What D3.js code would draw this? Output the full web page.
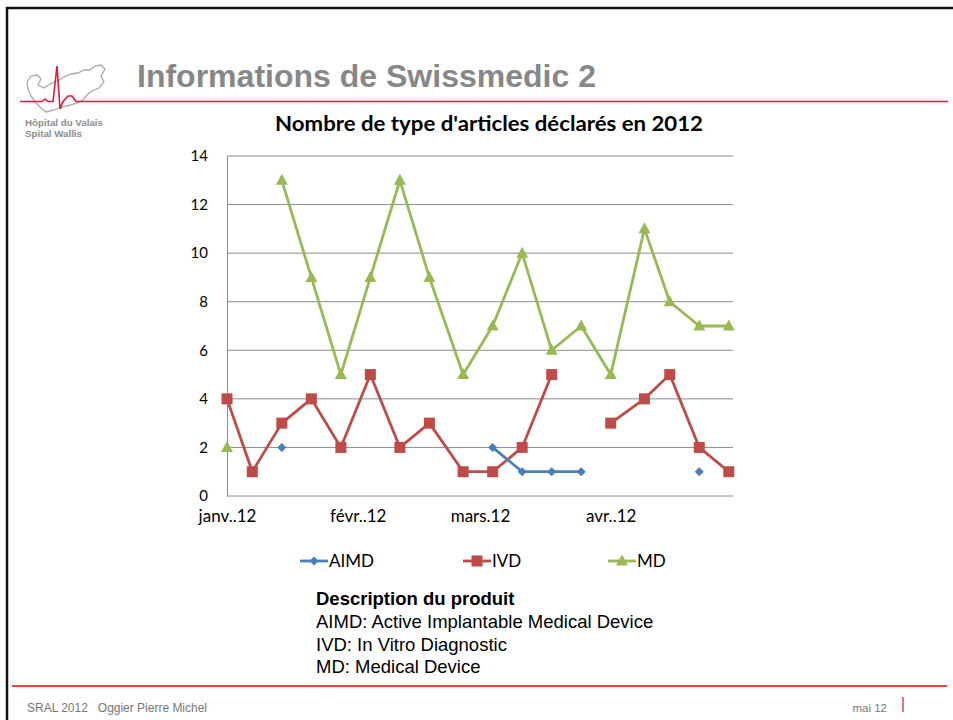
<!DOCTYPE html>
<html>
<head>
<meta charset="utf-8">
<script src="https://cdn.jsdelivr.net/npm/d3@7"></script>
<style>
  body { margin: 0; background: #fff; }
  svg { display: block; }
</style>
</head>
<body>
<div class="slide"></div>
<script>
// data
var dates = ["2012-01-01", "2012-01-07", "2012-01-14", "2012-01-21", "2012-01-28",
             "2012-02-04", "2012-02-11", "2012-02-18", "2012-02-26", "2012-03-04",
             "2012-03-11", "2012-03-18", "2012-03-25", "2012-04-01", "2012-04-09",
             "2012-04-15", "2012-04-22", "2012-04-29"];
var aimd = [null, null, 2, null, null, null, null, null, null, 2, 1, 1, 1, null, null, null, 1, null];
var ivd  = [4, 1, 3, 4, 2, 5, 2, 3, 1, 1, 2, 5, null, 3, 4, 5, 2, 1];
var md   = [2, null, 13, 9, 5, 9, 13, 9, 5, 7, 10, 6, 7, 5, 11, 8, 7, 7];
var seriesNames = ["AIMD", "IVD", "MD"];
var tickDates = ["2012-01-01", "2012-02-01", "2012-03-01", "2012-04-01"];
var tickLabels = ["janv..12", "févr..12", "mars.12", "avr..12"];
var yTicks = [0, 2, 4, 6, 8, 10, 12, 14];
var descLines = ["AIMD: Active Implantable Medical Device", "IVD: In Vitro Diagnostic", "MD: Medical Device"];

var W = 953, H = 720;
var colors = {AIMD: "#4a7ebb", IVD: "#be4b48", MD: "#98b954"};
var chartFont = "Lato, 'Open Sans', sans-serif";
var arial = "'Liberation Sans', Arial, sans-serif";
var parse = d3.timeParse("%Y-%m-%d");

var svg = d3.select(".slide").append("svg")
    .attr("width", W)
    .attr("height", H);

// slide frame
svg.append("line").attr("x1", 6).attr("x2", W).attr("y1", 8).attr("y2", 8)
   .attr("stroke", "#111").attr("stroke-width", 2.5);
svg.append("line").attr("x1", 7).attr("x2", 7).attr("y1", 7).attr("y2", H)
   .attr("stroke", "#111").attr("stroke-width", 2.5);

// logo: map outline + ecg line
var logo = svg.append("g");
logo.append("path")
   .attr("d", "M27,82 L31,76 L37,75 L41,79 L38,85 L44,88 L50,84 L57,81 L64,77 L71,74 L78,73 L84,70 L90,70 L95,66 L101,65 L105,69 L101,76 L104,82 L99,88 L92,91 L87,95 L83,100 L77,103 L70,105 L62,107 L54,110 L46,112 L41,108 L36,103 L31,96 L28,89 Z")
   .attr("fill", "none").attr("stroke", "#a8a8a8").attr("stroke-width", 1.3);
logo.append("path")
   .attr("d", "M20,101.5 L42,101.5 L45,99 L48,101.5 L53,101.5 L57,66 L60,109 L63,101.5 L68,96 L72,96 L76,101.5 L948,101.5")
   .attr("fill", "none").attr("stroke", "#e2183f").attr("stroke-width", 1.6);
logo.append("text").attr("x", 25).attr("y", 126).text("Hôpital du Valais")
   .attr("textLength", 78).attr("lengthAdjust", "spacingAndGlyphs")
   .style("font-family", arial).style("font-size", "9.5px")
   .style("font-weight", "bold").style("fill", "#8c8c8c");
logo.append("text").attr("x", 25).attr("y", 137).text("Spital Wallis")
   .attr("textLength", 57).attr("lengthAdjust", "spacingAndGlyphs")
   .style("font-family", arial).style("font-size", "9.5px")
   .style("font-weight", "bold").style("fill", "#8c8c8c");

// slide title
svg.append("text").attr("x", 137).attr("y", 87)
   .text("Informations de Swissmedic 2")
   .attr("textLength", 459).attr("lengthAdjust", "spacingAndGlyphs")
   .style("font-family", arial)
   .style("font-size", "31px").style("font-weight", "bold").style("fill", "#878787");

// chart title
svg.append("text").attr("x", 489).attr("y", 131).attr("text-anchor", "middle")
   .text("Nombre de type d'articles déclarés en 2012")
   .attr("textLength", 428).attr("lengthAdjust", "spacingAndGlyphs")
   .style("font-family", chartFont).style("font-size", "21px")
   .style("font-weight", "bold").style("fill", "#000");

// scales
var x = d3.scaleTime()
    .domain([parse("2012-01-01"), parse("2012-04-30")])
    .range([227, 733]);
var y = d3.scaleLinear().domain([0, 14]).range([496, 156]);

// gridlines
svg.append("g").selectAll("line").data(yTicks).enter().append("line")
   .attr("x1", 227).attr("x2", 733)
   .attr("y1", function(d) { return y(d); }).attr("y2", function(d) { return y(d); })
   .attr("stroke", "#8c8c8c").attr("stroke-width", 1);

// y axis
var yAxis = svg.append("g").attr("transform", "translate(227,0)")
   .call(d3.axisLeft(y).tickValues(yTicks).tickSize(0).tickPadding(19));
yAxis.select(".domain").attr("stroke", "#8c8c8c");
yAxis.selectAll("text").style("font-family", chartFont).style("font-size", "15px").style("fill", "#000");

// x axis labels
var xAxis = svg.append("g").attr("transform", "translate(0,496)")
   .call(d3.axisBottom(x).tickValues(tickDates.map(parse)).tickSize(0).tickPadding(14)
     .tickFormat(function(d, i) { return tickLabels[i]; }));
xAxis.select(".domain").remove();
xAxis.selectAll("text").style("font-family", chartFont).style("font-size", "17px").style("fill", "#000");

// series
var seriesData = {AIMD: aimd, IVD: ivd, MD: md};
var line = d3.line()
    .defined(function(d) { return d.v != null; })
    .x(function(d) { return x(d.date); })
    .y(function(d) { return y(d.v); });

function marker(g, name, cx, cy) {
  if (name === "AIMD") {
    g.append("path").attr("d", "M0,-4.5 L4.5,0 L0,4.5 L-4.5,0 Z")
     .attr("transform", "translate(" + cx + "," + cy + ")").attr("fill", colors.AIMD);
  } else if (name === "IVD") {
    g.append("rect").attr("x", cx - 5.5).attr("y", cy - 5.5).attr("width", 11).attr("height", 11)
     .attr("fill", colors.IVD);
  } else {
    g.append("path").attr("d", "M0,-6.5 L6,4.5 L-6,4.5 Z")
     .attr("transform", "translate(" + cx + "," + cy + ")").attr("fill", colors.MD);
  }
}

// draw MD first, then IVD, then AIMD on top
["MD", "IVD", "AIMD"].forEach(function(name) {
  var pts = dates.map(function(d, i) { return {date: parse(d), v: seriesData[name][i]}; });
  var g = svg.append("g");
  g.append("path").datum(pts).attr("d", line)
   .attr("fill", "none").attr("stroke", colors[name]).attr("stroke-width", 2.8)
   .attr("stroke-linejoin", "round");
  pts.forEach(function(p) {
    if (p.v != null) marker(g, name, x(p.date), y(p.v));
  });
});

// legend
var legendX = [300, 463, 608];
seriesNames.forEach(function(name, i) {
  var g = svg.append("g");
  var lx = legendX[i];
  g.append("line").attr("x1", lx).attr("x2", lx + 28).attr("y1", 561).attr("y2", 561)
   .attr("stroke", colors[name]).attr("stroke-width", 2.8);
  marker(g, name, lx + 14, 561);
  g.append("text").attr("x", lx + 29).attr("y", 567).text(name)
   .style("font-family", chartFont).style("font-size", "17px").style("fill", "#000");
});

// description block
svg.append("text").attr("x", 316).attr("y", 605).text("Description du produit")
   .style("font-family", arial).style("font-size", "18.5px")
   .style("font-weight", "bold").style("fill", "#000");
svg.append("g").selectAll("text").data(descLines).enter().append("text")
   .attr("x", 316).attr("y", function(d, i) { return 628 + i * 22.5; })
   .text(function(d) { return d; })
   .style("font-family", arial).style("font-size", "18.5px")
   .style("fill", "#000");

// footer
svg.append("line").attr("x1", 12).attr("x2", 947).attr("y1", 686).attr("y2", 686)
   .attr("stroke", "#ff0000").attr("stroke-width", 1.3);
svg.append("text").attr("x", 27).attr("y", 712).text("SRAL 2012   Oggier Pierre Michel")
   .attr("textLength", 180).attr("lengthAdjust", "spacingAndGlyphs")
   .style("font-family", arial).style("font-size", "12px")
   .style("fill", "#777").style("white-space", "pre");
svg.append("text").attr("x", 887).attr("y", 712).attr("text-anchor", "end").text("mai 12")
   .style("font-family", arial).style("font-size", "11.5px")
   .style("fill", "#777");
svg.append("line").attr("x1", 903).attr("x2", 903).attr("y1", 697).attr("y2", 712)
   .attr("stroke", "#c8323a").attr("stroke-width", 1.3);
</script>
</body>
</html>
